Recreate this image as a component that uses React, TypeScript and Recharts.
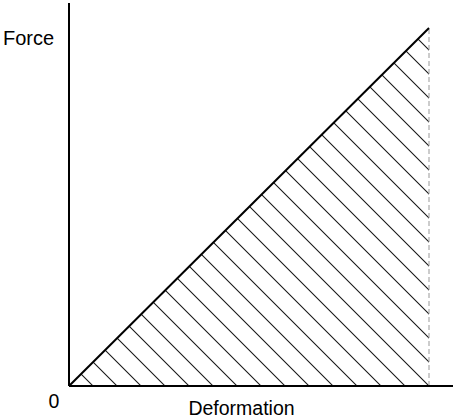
import {ComposedChart, Area, Line, XAxis, YAxis, ReferenceLine} from 'recharts';

// load-deformation triangle (work = hatched area)
const deformation = [0, 30];
const force = [0, 30];
const xMax = 32;
const yMax = 32.1;
const peakDeformation = deformation[deformation.length - 1];
const peakForce = force[force.length - 1];

const data = deformation.map((d, i) => ({deformation: d, force: force[i]}));

const FONT = '"Liberation Sans", Arial, sans-serif';

export default function App() {
  return (
    <div style={{position: 'absolute', left: 0, top: 0}}>
      <ComposedChart
        width={453}
        height={419}
        data={data}
        margin={{top: 3, right: 0, left: 9, bottom: 3}}
      >
        <defs>
          <pattern
            id="hatch"
            patternUnits="userSpaceOnUse"
            width={16.97}
            height={16.97}
            patternTransform="translate(0 5.7) rotate(-45)"
          >
            <rect x={0} y={0} width={1} height={16.97} fill="#222" />
          </pattern>
        </defs>
        <XAxis
          type="number"
          dataKey="deformation"
          domain={[0, xMax]}
          height={30}
          tick={false}
          tickLine={false}
          axisLine={{stroke: '#000', strokeWidth: 2}}
          label={() => (
            <g fontFamily={FONT} fontSize={19.5} fill="#000">
              <text x={54} y={408} textAnchor="middle">
                0
              </text>
              <text x={241.5} y={415} textAnchor="middle">
                Deformation
              </text>
            </g>
          )}
        />
        <YAxis
          type="number"
          domain={[0, yMax]}
          width={60}
          tick={false}
          tickLine={false}
          axisLine={{stroke: '#000', strokeWidth: 2}}
          label={() => (
            <text x={3} y={45} fontFamily={FONT} fontSize={20} fill="#000">
              Force
            </text>
          )}
        />
        <Area
          type="linear"
          dataKey="force"
          stroke="none"
          fill="url(#hatch)"
          fillOpacity={1}
          isAnimationActive={false}
        />
        <ReferenceLine
          segment={[
            {x: peakDeformation, y: 0},
            {x: peakDeformation, y: peakForce},
          ]}
          stroke="#999"
          strokeWidth={1}
          strokeDasharray="5 3"
        />
        <Line
          type="linear"
          dataKey="force"
          stroke="#000"
          strokeWidth={2}
          dot={false}
          isAnimationActive={false}
        />
      </ComposedChart>
    </div>
  );
}
